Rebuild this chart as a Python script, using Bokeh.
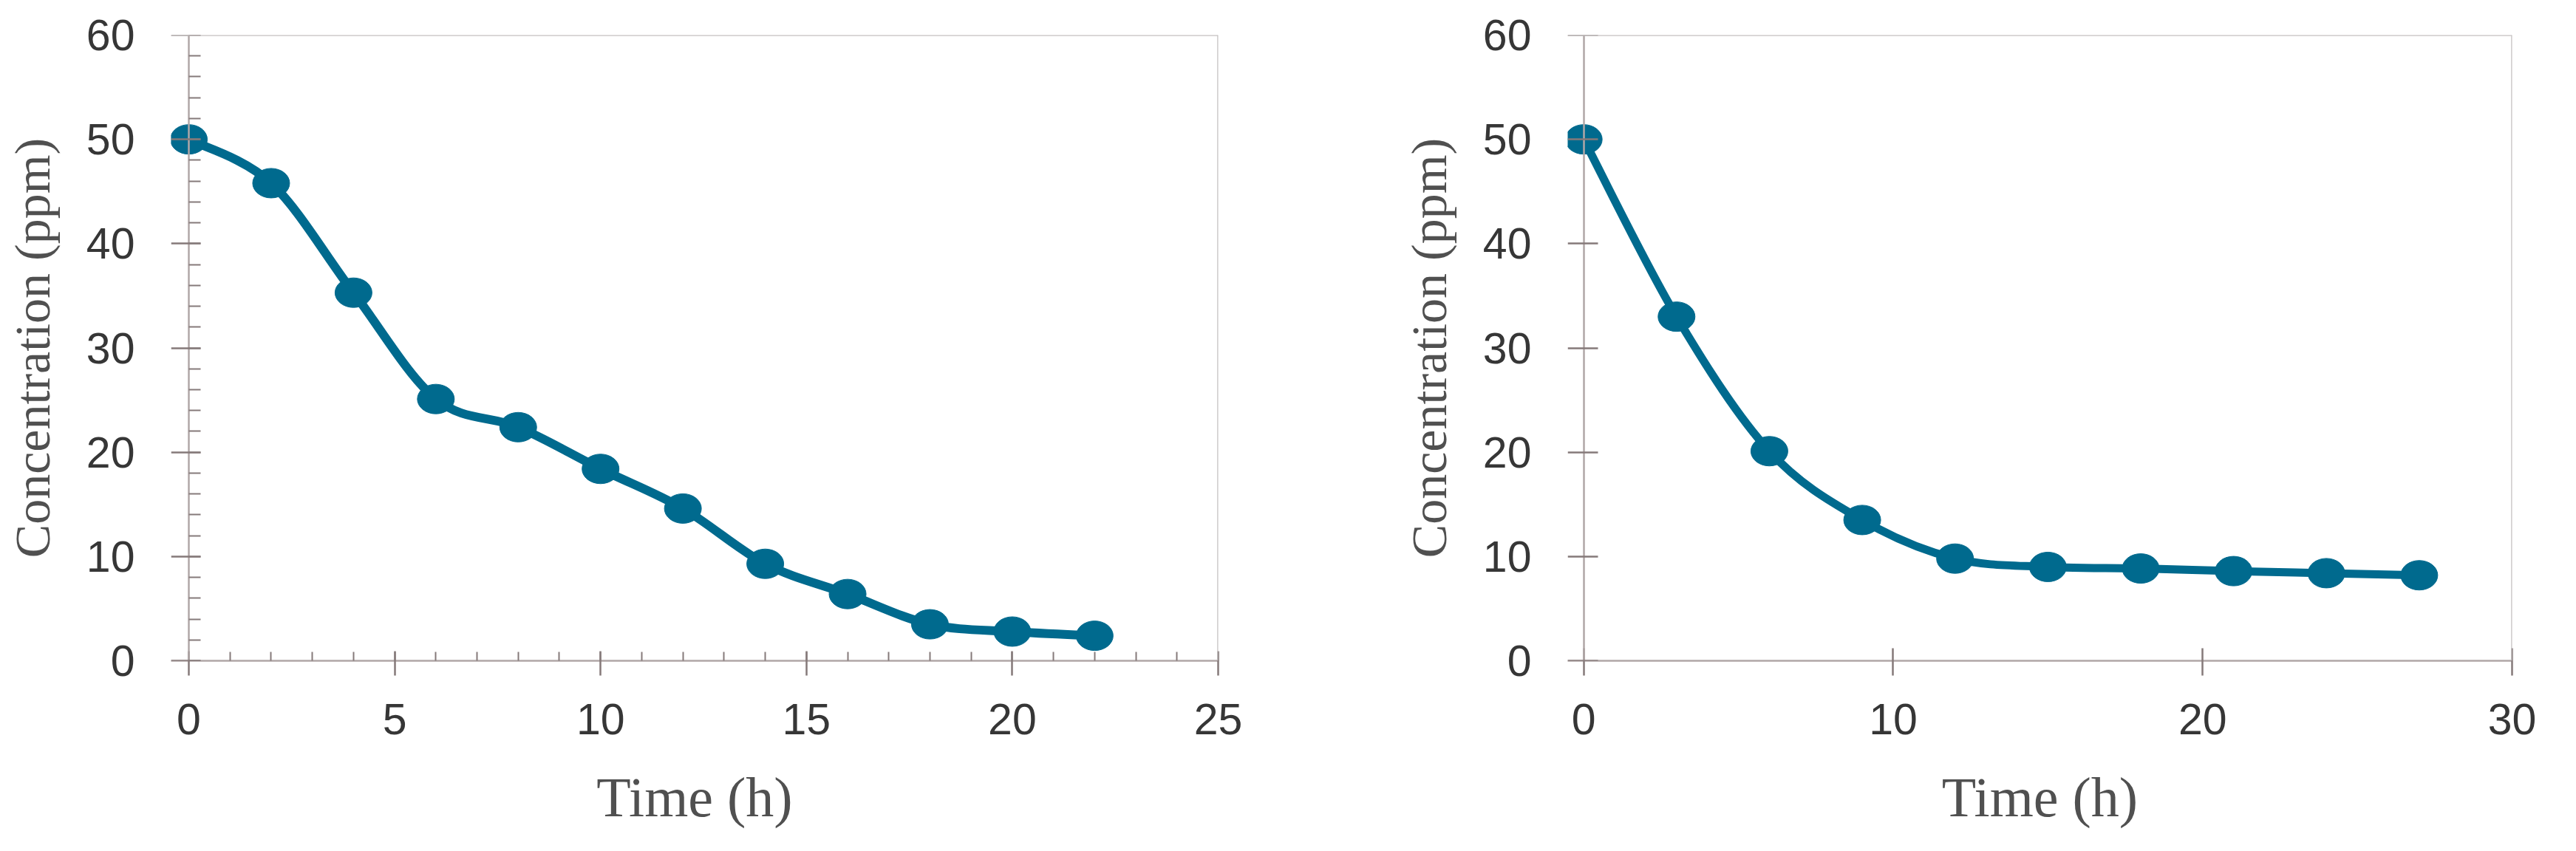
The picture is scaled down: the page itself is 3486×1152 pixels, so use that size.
from bokeh.embed import file_html
from bokeh.layouts import row
from bokeh.models import CustomJSTickFormatter, LinearAxis, Range1d, SingleIntervalTicker, Span
from bokeh.plotting import figure
from bokeh.resources import INLINE

# left panel: first run, sampled every 2 h
time_a = [0, 2, 4, 6, 8, 10, 12, 14, 16, 18, 20, 22]
conc_a = [50.0, 45.8, 35.3, 25.1, 22.4, 18.4, 14.6, 9.3, 6.4, 3.5, 2.8, 2.4]

# right panel: second run, sampled every 3 h
time_b = [0, 3, 6, 9, 12, 15, 18, 21, 24, 27]
conc_b = [50.0, 33.0, 20.1, 13.5, 9.8, 9.0, 8.85, 8.6, 8.4, 8.2]

y_ticks = [0, 60, 10]
x_label = "Time (h)"
y_label = "Concentration (ppm)"

LINE = "#006a8e"
AXIS = "#b0a7a7"
BORDER = "#c4c0c0"
TICK = "#857a7a"


def smooth(xs, ys, k=1 / 6):
    """Catmull-Rom style bezier control points, like a spreadsheet 'smoothed line'."""
    n = len(xs)
    out = dict(x0=[], y0=[], x1=[], y1=[], cx0=[], cy0=[], cx1=[], cy1=[])
    for i in range(n - 1):
        a, b = max(i - 1, 0), min(i + 2, n - 1)
        out["x0"].append(xs[i])
        out["y0"].append(ys[i])
        out["x1"].append(xs[i + 1])
        out["y1"].append(ys[i + 1])
        out["cx0"].append(xs[i] + (xs[i + 1] - xs[a]) * k)
        out["cy0"].append(ys[i] + (ys[i + 1] - ys[a]) * k)
        out["cx1"].append(xs[i + 1] - (xs[b] - xs[i]) * k)
        out["cy1"].append(ys[i + 1] - (ys[b] - ys[i]) * k)
    return out


def style_axis(ax):
    ax.axis_line_color = AXIS
    ax.axis_line_width = 2.5
    ax.major_tick_line_color = TICK
    ax.major_tick_line_width = 2.5
    ax.minor_tick_line_color = TICK
    ax.minor_tick_line_width = 2
    ax.major_label_text_font = "Liberation Sans"
    ax.major_label_text_font_size = "59px"
    ax.major_label_text_color = "#363636"
    ax.axis_label_text_font = "Liberation Serif"
    ax.axis_label_text_font_style = "normal"
    ax.axis_label_text_color = "#505050"


def make_panel(xs, ys, x_max, x_step, minor, width, left, frame_w, right, lw, tick_in_x, tick_in_y, tick_out_y):
    # the frame starts tick_out_y px left of x=0 so the first marker is not clipped
    pad = x_max * tick_out_y / (frame_w - tick_out_y)
    p = figure(width=width, height=1136, x_range=Range1d(-pad, x_max), y_range=Range1d(y_ticks[0], y_ticks[1]),
               min_border_left=left, min_border_right=right, min_border_top=47, min_border_bottom=242,
               output_backend="svg", toolbar_location=None, tools="")
    p.grid.visible = False
    p.outline_line_color = None
    p.background_fill_color = "white"
    p.border_fill_color = "white"

    p.add_layout(Span(location=y_ticks[1], dimension="width", line_color=BORDER, line_width=2.5))
    p.add_layout(Span(location=x_max, dimension="height", line_color=BORDER, line_width=2.5))

    x_ticker = SingleIntervalTicker(interval=x_step, num_minor_ticks=minor)
    y_ticker = SingleIntervalTicker(interval=y_ticks[2], num_minor_ticks=minor)

    xa = p.xaxis[0]
    style_axis(xa)
    xa.ticker = x_ticker
    xa.axis_label = x_label
    xa.axis_label_text_font_size = "76px"
    xa.major_tick_out = 20
    xa.major_tick_in = tick_in_x
    xa.minor_tick_in = 12 if minor else 0
    xa.minor_tick_out = 0
    xa.major_label_standoff = 38
    xa.axis_label_standoff = 40

    # labels and title of the y axis sit on the frame edge ...
    ya = p.yaxis[0]
    style_axis(ya)
    ya.ticker = y_ticker
    ya.axis_label = y_label
    ya.axis_label_text_font_size = "68px"
    ya.axis_line_color = None
    ya.major_tick_out = 0
    ya.major_tick_in = 0
    ya.minor_tick_out = 0
    ya.minor_tick_in = 0
    ya.major_label_standoff = 49
    ya.axis_label_standoff = 32

    # ... while its line and ticks are pinned at x = 0
    rule = LinearAxis(fixed_location=0, ticker=y_ticker, formatter=CustomJSTickFormatter(code="return ''"))
    style_axis(rule)
    rule.major_tick_in = tick_out_y
    rule.major_tick_out = tick_in_y
    rule.minor_tick_in = 0
    rule.minor_tick_out = 16 if minor else 0
    rule.major_label_standoff = 0
    p.add_layout(rule, "right")

    seg = smooth(xs, ys)
    p.bezier(x0=seg["x0"], y0=seg["y0"], x1=seg["x1"], y1=seg["y1"],
             cx0=seg["cx0"], cy0=seg["cy0"], cx1=seg["cx1"], cy1=seg["cy1"],
             line_color=LINE, line_width=lw, line_cap="round")
    p.ellipse(x=xs, y=ys, width=50, height=40, width_units="screen", height_units="screen",
              fill_color=LINE, line_color=LINE)
    return p


left = make_panel(time_a, conc_a, 25, 5, 5, 1748, 231, 1417, 100, 12, 13, 16, 24)
right = make_panel(time_b, conc_b, 30, 10, 0, 1711, 373, 1298, 60, 11, 17, 19, 22)

layout = row(left, right)
open("out.html", "w").write(file_html(layout, INLINE))
